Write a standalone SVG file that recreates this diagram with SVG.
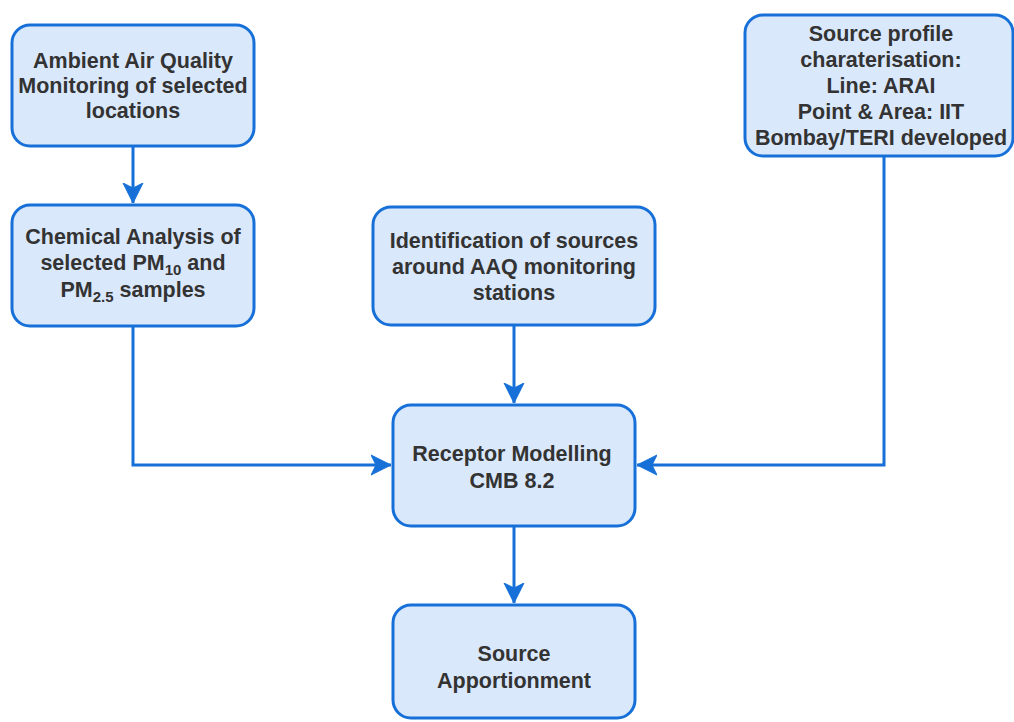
<svg xmlns="http://www.w3.org/2000/svg" width="1014" height="722" viewBox="0 0 1014 722">
<style>
.box{fill:#dae8fc;stroke:#1670d8;stroke-width:3}
.t{font-family:"Liberation Sans",Arial,sans-serif;font-size:21.5px;font-weight:bold;fill:#333;text-anchor:middle}
.sub{font-size:15px}
.edge{fill:none;stroke:#1670d8;stroke-width:3}
</style>
<defs>
<marker id="arr" markerUnits="userSpaceOnUse" markerWidth="24" markerHeight="24" refX="20" refY="10" orient="auto" viewBox="0 0 24 20">
<path d="M20,10 L0,0 L5,10 L0,20 Z" fill="#1670d8" stroke="#1670d8" stroke-width="1"/>
</marker>
</defs>
<rect width="1014" height="722" fill="#ffffff"/>
<g id="connectors">
<path class="edge" d="M133,147 L133,203" marker-end="url(#arr)"/>
<path class="edge" d="M133,327 L133,465 L391,465" marker-end="url(#arr)"/>
<path class="edge" d="M514,325 L514,403" marker-end="url(#arr)"/>
<path class="edge" d="M884,157 L884,465 L637,465" marker-end="url(#arr)"/>
<path class="edge" d="M514,527 L514,603" marker-end="url(#arr)"/>
</g>
<g id="aaq">
<rect class="box" x="12" y="25" width="242" height="121" rx="18"/>
<text class="t" x="133" y="68">Ambient Air Quality</text>
<text class="t" x="133" y="93">Monitoring of selected</text>
<text class="t" x="133" y="118">locations</text>
</g>
<g id="chem">
<rect class="box" x="12" y="205" width="242" height="121" rx="18"/>
<text class="t" x="133" y="244">Chemical Analysis of</text>
<text class="t" x="133" y="270">selected PM<tspan class="sub" dy="5">10</tspan><tspan dy="-5"> and</tspan></text>
<text class="t" x="133" y="297">PM<tspan class="sub" dy="5">2.5</tspan><tspan dy="-5"> samples</tspan></text>
</g>
<g id="ident">
<rect class="box" x="373" y="207" width="282" height="118" rx="18"/>
<text class="t" x="514" y="248">Identification of sources</text>
<text class="t" x="514" y="274">around AAQ monitoring</text>
<text class="t" x="514" y="300">stations</text>
</g>
<g id="profile">
<rect class="box" x="745" y="15" width="268" height="141" rx="18"/>
<text class="t" x="881" y="41">Source profile</text>
<text class="t" x="881" y="67">charaterisation:</text>
<text class="t" x="881" y="93">Line: ARAI</text>
<text class="t" x="881" y="119">Point &amp; Area: IIT</text>
<text class="t" x="881" y="145">Bombay/TERI developed</text>
</g>
<g id="receptor">
<rect class="box" x="393" y="405" width="242" height="121" rx="18"/>
<text class="t" x="512" y="461">Receptor Modelling</text>
<text class="t" x="512" y="488">CMB 8.2</text>
</g>
<g id="apport">
<rect class="box" x="393" y="605" width="242" height="113" rx="18"/>
<text class="t" x="514" y="661">Source</text>
<text class="t" x="514" y="688">Apportionment</text>
</g>
</svg>
